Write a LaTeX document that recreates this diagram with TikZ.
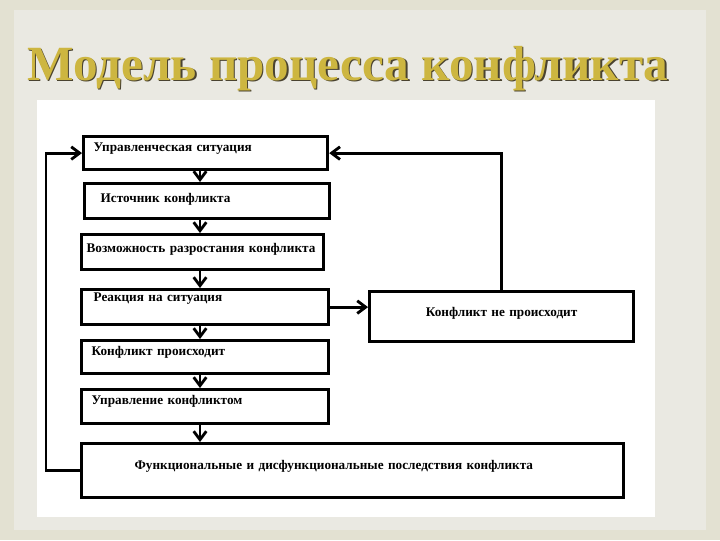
\documentclass[tikz,border=0pt]{standalone}
\usepackage{fontspec}
\setmainfont{Liberation Serif}
\usetikzlibrary{arrows.meta, calc, positioning}
\newdimen\pxu \pxu=0.025cm

\definecolor{bgbeige}{HTML}{E3E1D2}
\definecolor{bginner}{HTML}{EAE9E2}
\definecolor{titlegold}{HTML}{CDB640}
\definecolor{titleshade}{HTML}{4A4330}

\tikzset{
  blk/.style n args={4}{draw=black, line width=2.3pt, fill=white, anchor=north west,
    align=left, inner ysep=0pt, font=\bfseries\fontsize{9.4}{10}\selectfont,
    text width=#1\pxu, inner xsep=#2\pxu, text height=#3\pxu, text depth=#4\pxu},
  arr/.style={line width=2pt, -{Straight Barb[length=6pt, width=9pt, line width=2pt]}},
  ttl/.style={font=\bfseries\fontsize{35}{40}\selectfont, anchor=base},
}

\begin{document}
\begin{tikzpicture}[x=0.025cm, y=-0.025cm]
    \useasboundingbox (0,0) rectangle (720,540);
    % Background and white sheet
    \fill[bgbeige] (0,0) rectangle (720,540);
    \fill[bginner] (14,10) rectangle (706,530);
    \fill[white] (37,100) rectangle (655,517);

    % Title with shadow
    \node[ttl, text=titleshade] at (349.5,81.5) {Модель процесса конфликта};
    \node[ttl, text=titlegold] (title) at (348,80) {Модель процесса конфликта};

    % Stages of the process
    \node[blk={224}{10}{15}{18}] (b1) at (82,135) {Управленческая ситуация};
    \node[blk={213}{16}{19}{16}] (b2) at (83,182) {Источник конфликта};
    \node[blk={232}{5}{18}{17}] (b3) at (80,233) {Возможность разростания конфликта};
    \node[blk={223}{12}{12}{23}] (b4) at (80,288) {Реакция на ситуация};
    \node[blk={227}{10}{15}{18}] (b5) at (80,339) {Конфликт происходит};
    \node[blk={227}{10}{15}{19}] (b6) at (80,388) {Управление конфликтом};
    \node[blk={436}{53}{26}{28}] (b7) at (80,442) {Функциональные и дисфункциональные последствия конфликта};
    \node[blk={240}{12}{25}{25}, align=center] (b8) at (368,290) {Конфликт не происходит};

    % Main chain
    \coordinate (ax) at (200,0);
    \foreach \a/\b in {b1/b2, b2/b3, b3/b4, b4/b5, b5/b6, b6/b7} {
        \draw[arr] (\a.south -| ax) -- (\b.north -| ax);
    }

    % Side branch and feedback loops
    \draw[arr] (b4.east) -- (b4.east -| b8.west);
    \draw[arr] (b8.north) |- (b1.east);
    \draw[arr] (b7.west) -- ++(-34,0) |- (b1.west);
\end{tikzpicture}
\end{document}
